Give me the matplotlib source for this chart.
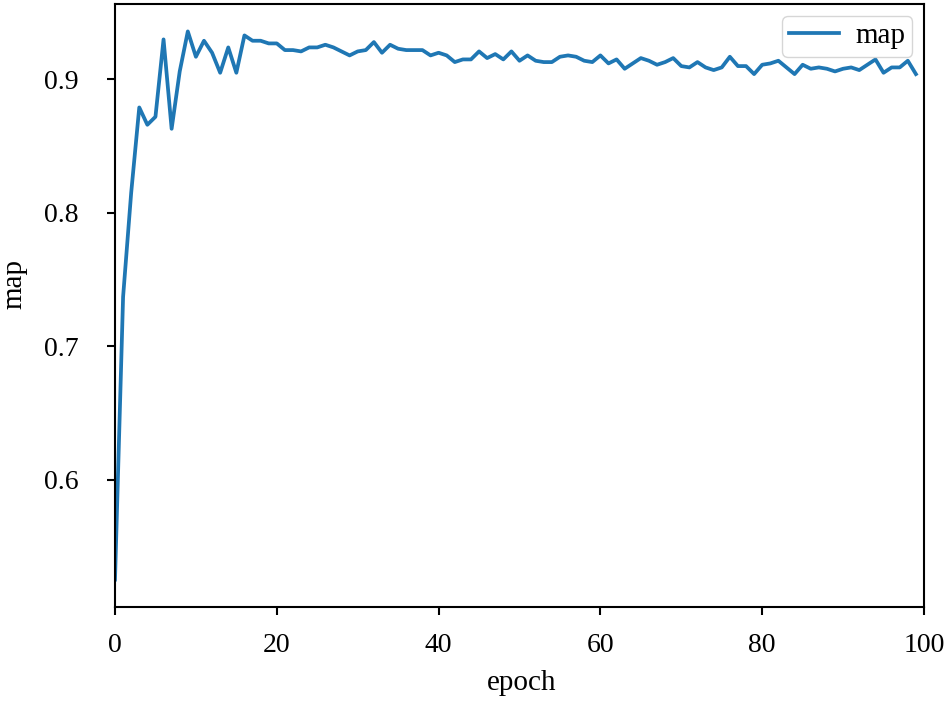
import matplotlib
matplotlib.use("Agg")
import matplotlib.pyplot as plt

epochs = list(range(100))
map_values = [
    0.525, 0.737, 0.815, 0.879, 0.866, 0.872, 0.930, 0.863, 0.906, 0.936,
    0.917, 0.929, 0.920, 0.905, 0.924, 0.905, 0.933, 0.929, 0.929, 0.927,
    0.927, 0.922, 0.922, 0.921, 0.924, 0.924, 0.926, 0.924, 0.921, 0.918,
    0.921, 0.922, 0.928, 0.920, 0.926, 0.923, 0.922, 0.922, 0.922, 0.918,
    0.920, 0.918, 0.913, 0.915, 0.915, 0.921, 0.916, 0.919, 0.915, 0.921,
    0.914, 0.918, 0.914, 0.913, 0.913, 0.917, 0.918, 0.917, 0.914, 0.913,
    0.918, 0.912, 0.915, 0.908, 0.912, 0.916, 0.914, 0.911, 0.913, 0.916,
    0.910, 0.909, 0.913, 0.909, 0.907, 0.909, 0.917, 0.910, 0.910, 0.904,
    0.911, 0.912, 0.914, 0.909, 0.904, 0.911, 0.908, 0.909, 0.908, 0.906,
    0.908, 0.909, 0.907, 0.911, 0.915, 0.905, 0.909, 0.909, 0.914, 0.904,
]
x_ticks = [0, 20, 40, 60, 80, 100]
y_ticks = [0.6, 0.7, 0.8, 0.9]

plt.rcParams['font.family'] = ['Liberation Serif', 'DejaVu Serif']
fig = plt.figure(figsize=(9.5, 7.05), dpi=100)
ax = fig.add_axes([115/950, 1-607/705, (924-115)/950, (607-4)/705])
ax.plot(epochs, map_values, color='#1f77b4', linewidth=2.7, label='map')
ax.set_xlim(0, 100)
ax.set_xticks(x_ticks)
ax.set_yticks(y_ticks)
ax.set_yticklabels([f"{v:.1f}" for v in y_ticks])
ax.tick_params(labelsize=20, length=6, width=1.5)
ax.tick_params(axis='x', pad=13)
ax.tick_params(axis='y', pad=20)
for s in ax.spines.values():
    s.set_linewidth(1.5)
ax.set_xlabel('epoch', fontsize=21)
ax.set_ylabel('map', fontsize=21)
ax.xaxis.set_label_coords(0.503, -(670-607)/603)
ax.yaxis.set_label_coords(-(115-27)/809, (607-284)/603)
ax.legend(loc='upper right', fontsize=21, handlelength=1.7,
          handletextpad=0.55, borderpad=0.25, borderaxespad=0.4)
fig.savefig('out.png', dpi=100)
